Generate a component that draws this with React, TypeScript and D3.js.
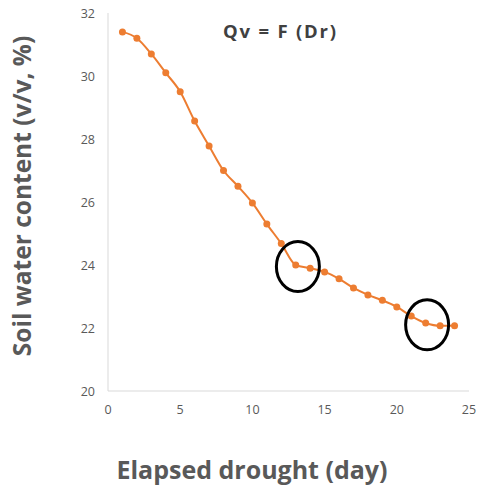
import React from "react";
import * as d3 from "d3";

const days = [1, 2, 3, 4, 5, 6, 7, 8, 9, 10, 11, 12, 13, 14, 15, 16, 17, 18, 19, 20, 21, 22, 23, 24];
const water = [31.4, 31.2, 30.7, 30.1, 29.5, 28.57, 27.78, 27.0, 26.5, 25.97, 25.3, 24.68, 24.0, 23.9, 23.78, 23.56, 23.27, 23.05, 22.88, 22.67, 22.38, 22.16, 22.07, 22.07];
const xTicks = [0, 5, 10, 15, 20, 25];
const yTicks = [20, 22, 24, 26, 28, 30, 32];
const circleDays = [13.15, 22.1];
const circleValues = [23.95, 22.1];

const W = 484;
const H = 493;
const left = 108;
const right = 469;
const top = 13;
const bottom = 391;

export default function App() {
  const x = d3.scaleLinear().domain([0, 25]).range([left, right]);
  const y = d3.scaleLinear().domain([20, 32]).range([bottom, top]);
  const pts = days.map((d, i) => [d, water[i]] as [number, number]);
  const line = d3
    .line<[number, number]>()
    .x((d) => x(d[0]))
    .y((d) => y(d[1]))
    .curve(d3.curveMonotoneX);
  const font = "'Open Sans', 'Noto Sans', sans-serif";
  return (
    <svg
      width={W}
      height={H}
      style={{ position: "absolute", left: 0, top: 0, background: "#fff" }}
      fontFamily={font}
    >
      <line x1={left} x2={left} y1={top} y2={bottom} stroke="#d9d9d9" strokeWidth={1} />
      <line x1={left} x2={right} y1={bottom} y2={bottom} stroke="#d9d9d9" strokeWidth={1} />
      {yTicks.map((t) => (
        <text key={"y" + t} x={95} y={y(t) + 4.5} textAnchor="end" fontSize={12.5} fill="#595959">
          {t}
        </text>
      ))}
      {xTicks.map((t) => (
        <text key={"x" + t} x={x(t)} y={414} textAnchor="middle" fontSize={12.5} fill="#595959">
          {t}
        </text>
      ))}
      <path d={line(pts) || ""} fill="none" stroke="#ED7D31" strokeWidth={2} />
      {pts.map((p, i) => (
        <circle key={i} cx={x(p[0])} cy={y(p[1])} r={3.5} fill="#ED7D31" />
      ))}
      {circleDays.map((d, i) => (
        <ellipse
          key={"c" + i}
          cx={x(d)}
          cy={y(circleValues[i])}
          rx={21.5}
          ry={25}
          fill="none"
          stroke="#000"
          strokeWidth={3}
        />
      ))}
      <text
        x={223}
        y={38}
        fontSize={18.5}
        fontWeight="bold"
        fill="#404040"
        textLength={113}
        lengthAdjust="spacing"
      >
        Qv = F (Dr)
      </text>
      <text x={252} y={479} textAnchor="middle" fontSize={25} fontWeight="bold" fill="#595959">
        Elapsed drought (day)
      </text>
      <text
        transform="translate(31,196) rotate(-90)"
        textAnchor="middle"
        fontSize={24.5}
        fontWeight="bold"
        fill="#595959"
      >
        Soil water content (v/v, %)
      </text>
    </svg>
  );
}
